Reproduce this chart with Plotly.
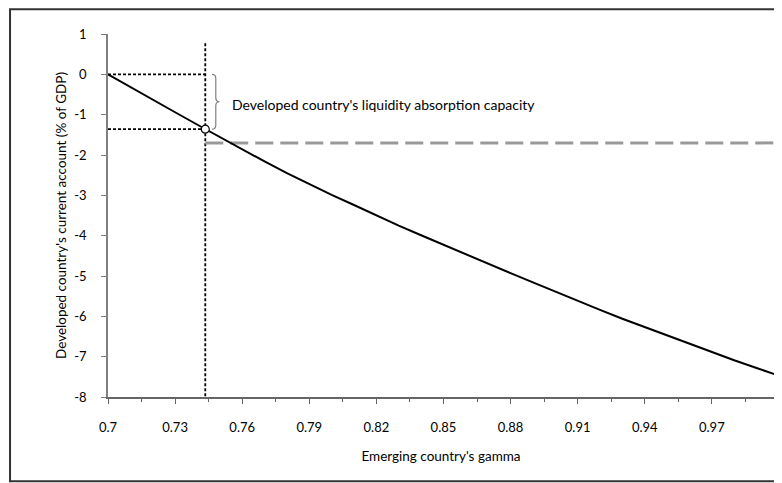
import plotly.graph_objects as go

# Emerging country's gamma vs developed country's current account (% of GDP)
gamma = [0.70, 0.71, 0.72, 0.73, 0.74, 0.75, 0.76, 0.77, 0.78, 0.79, 0.80,
         0.81, 0.82, 0.83, 0.84, 0.85, 0.86, 0.87, 0.88, 0.89, 0.90,
         0.91, 0.92, 0.93, 0.94, 0.95, 0.96, 0.97, 0.98, 0.99, 1.00]
current_account = [0.00, -0.32, -0.63, -0.94, -1.25, -1.56, -1.86, -2.16, -2.45, -2.73, -2.99,
                   -3.24, -3.50, -3.75, -3.99, -4.23, -4.47, -4.70, -4.93, -5.16, -5.39,
                   -5.62, -5.84, -6.06, -6.27, -6.48, -6.69, -6.89, -7.09, -7.28, -7.47]

# punto de equilibrio y nivel de referencia
gamma_star = 0.7435
ca_star = -1.36
ca_limit = -1.70
vline_top = 0.77

x_ticks = [0.70, 0.73, 0.76, 0.79, 0.82, 0.85, 0.88, 0.91, 0.94, 0.97]
x_ticktext = ['0.7', '0.73', '0.76', '0.79', '0.82', '0.85', '0.88', '0.91', '0.94', '0.97']
y_ticks = [1, 0, -1, -2, -3, -4, -5, -6, -7, -8]
y_ticktext = [str(v) for v in y_ticks]

annot_text = "Developed country's liquidity absorption capacity"

fig = go.Figure()

# lineas punteadas de referencia
dotted = dict(color='black', width=1.8, dash='3px,2px')
fig.add_trace(go.Scatter(x=[gamma[0], gamma_star], y=[0, 0], mode='lines',
                         line=dotted, hoverinfo='skip'))
fig.add_trace(go.Scatter(x=[gamma[0], gamma_star], y=[ca_star, ca_star], mode='lines',
                         line=dotted, hoverinfo='skip'))
fig.add_trace(go.Scatter(x=[gamma_star, gamma_star], y=[vline_top, -8], mode='lines',
                         line=dotted, hoverinfo='skip'))

# linea gris discontinua
fig.add_trace(go.Scatter(x=[gamma_star, gamma[-1]], y=[ca_limit, ca_limit], mode='lines',
                         line=dict(color='#999999', width=3, dash='18px,7px'),
                         hoverinfo='skip'))

# curva principal
fig.add_trace(go.Scatter(x=gamma, y=current_account, mode='lines',
                         line=dict(color='black', width=2)))

fig.add_trace(go.Scatter(x=[gamma_star], y=[ca_star], mode='markers',
                         marker=dict(size=8, color='white',
                                     line=dict(color='black', width=1.2))))

# llave entre 0 y el punto de equilibrio
xa = gamma_star + 0.0030
xb = gamma_star + 0.0047
xc = gamma_star + 0.0064
mid = ca_star / 2
r = 0.1
brace = (f'M {xa},0 Q {xb},0 {xb},{-r} L {xb},{mid + r} '
         f'Q {xb},{mid} {xc},{mid} Q {xb},{mid} {xb},{mid - r} '
         f'L {xb},{ca_star + r} Q {xb},{ca_star} {xa},{ca_star}')
fig.add_shape(type='path', path=brace, xref='x', yref='y',
              line=dict(color='#808080', width=1.2))

fig.add_annotation(x=gamma_star + 0.0109, y=mid - 0.06, text=annot_text,
                   showarrow=False, xanchor='left', yanchor='middle',
                   font=dict(size=14, color='black'))

# marco exterior (el borde derecho queda fuera de la imagen)
fig.add_shape(type='rect', xref='paper', yref='paper',
              x0=-0.1471, x1=1.05, y0=-0.2322, y1=1.068,
              line=dict(color='#333333', width=2), layer='below')

fig.update_layout(
    width=766, height=475,
    margin=dict(l=100, r=0, t=26, b=86),
    plot_bgcolor='white', paper_bgcolor='white',
    showlegend=False,
    font=dict(family='Lato', size=13, color='black'),
)
# el grafico original esta recortado justo antes de gamma = 1
fig.update_xaxes(range=[0.7, 0.9978], tickvals=x_ticks, ticktext=x_ticktext,
                 showgrid=False, zeroline=False,
                 showline=True, linecolor='#666666', linewidth=1.5,
                 ticks='outside', ticklen=5, tickcolor='#666666',
                 ticklabelstandoff=13,
                 minor=dict(dtick=0.015, tick0=0.7, ticks='outside', ticklen=3,
                            tickcolor='#666666', showgrid=False),
                 title=dict(text="Emerging country's gamma", standoff=17,
                            font=dict(size=13.5)))
fig.update_yaxes(range=[-8, 1], tickvals=y_ticks, ticktext=y_ticktext,
                 showgrid=False, zeroline=False,
                 showline=True, linecolor='#808080', linewidth=1.5,
                 ticks='outside', ticklen=5, tickcolor='#808080',
                 ticklabelstandoff=12,
                 title=dict(text="Developed country's current account (% of GDP)",
                            standoff=5, font=dict(size=13.5)))

fig.write_html("out.html")
